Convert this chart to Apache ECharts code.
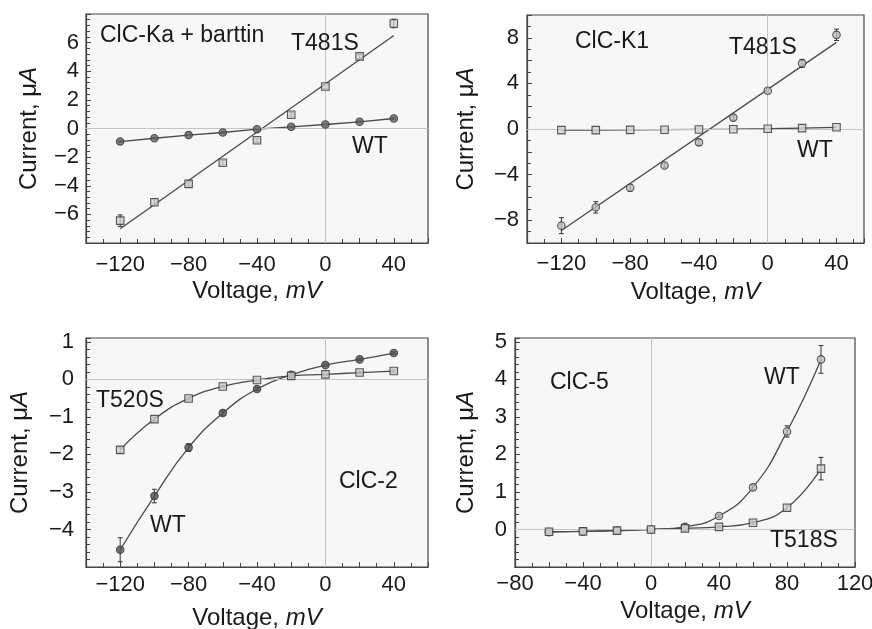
<!DOCTYPE html>
<html><head><meta charset="utf-8">
<script src="https://cdn.jsdelivr.net/npm/echarts@6/dist/echarts.min.js"></script>
<style>html,body{margin:0;padding:0;background:#fff}#c{width:872px;height:629px}</style>
</head><body><div id="c"></div>
<script>
// ---- data ----
const voltsTop = [-120, -100, -80, -60, -40, -20, 0, 20, 40];
const voltsClc5 = [-60, -40, -20, 0, 20, 40, 60, 80, 100];

// Panel A: ClC-Ka + barttin
const kaWT = [-0.91, -0.68, -0.46, -0.28, -0.05, 0.12, 0.28, 0.47, 0.70];
const kaWTErr = [0.06, 0.05, 0.05, 0.05, 0.05, 0.05, 0.05, 0.05, 0.06];
const kaT481S = [-6.44, -5.15, -3.87, -2.39, -0.82, 0.96, 2.93, 5.04, 7.34];
const kaT481SErr = [0.4, 0.2, 0.15, 0.15, 0.15, 0.15, 0.15, 0.15, 0.3];
const kaFitV = [-120, 40];
const kaFitI = [-7.0, 6.5];

// Panel B: ClC-K1
const k1WT = [-0.10, -0.10, -0.08, -0.06, -0.04, -0.02, 0.02, 0.08, 0.15];
const k1WTErr = [0.08, 0.08, 0.08, 0.08, 0.08, 0.08, 0.08, 0.08, 0.08];
const k1T481S = [-8.48, -6.87, -5.16, -3.20, -1.17, 1.00, 3.35, 5.76, 8.26];
const k1T481SErr = [0.7, 0.5, 0.3, 0.2, 0.25, 0.2, 0.2, 0.35, 0.5];
const k1FitV = [-120, 40];
const k1FitI = [-8.9, 7.6];

// Panel C: ClC-2
const c2WT = [-4.54, -3.11, -1.82, -0.90, -0.26, 0.12, 0.38, 0.53, 0.70];
const c2WTErr = [0.32, 0.18, 0.1, 0.05, 0.04, 0.03, 0.03, 0.03, 0.03];
const c2T520S = [-1.88, -1.06, -0.51, -0.19, -0.02, 0.09, 0.13, 0.18, 0.22];
const c2T520SErr = [0.08, 0.05, 0.04, 0.03, 0.03, 0.03, 0.03, 0.03, 0.03];

// Panel D: ClC-5
const c5WT = [-0.07, -0.05, -0.03, 0.0, 0.07, 0.36, 1.12, 2.61, 4.53];
const c5WTErr = [0.03, 0.03, 0.03, 0.03, 0.03, 0.04, 0.06, 0.15, 0.37];
const c5T518S = [-0.06, -0.05, -0.03, 0.0, 0.03, 0.07, 0.18, 0.58, 1.62];
const c5T518SErr = [0.03, 0.03, 0.03, 0.03, 0.03, 0.03, 0.04, 0.08, 0.3];

// ---- styling / layout ----
const FONT = 'Liberation Sans, Arial, Helvetica, sans-serif';
const INK = '#1a1a1a';
const LINE = '#4a4a4a';

function zip(xs, ys) { return xs.map((x, i) => [x, ys[i]]); }
function errData(xs, ys, es) { return xs.map((x, i) => [x, ys[i] - es[i], ys[i] + es[i]]); }
function minus(v) { return v < 0 ? '\u2212' + Math.abs(v) : String(v); }

function errRender(params, api) {
  const x = api.value(0), lo = api.value(1), hi = api.value(2);
  const p1 = api.coord([x, lo]), p2 = api.coord([x, hi]);
  const w = 2.5;
  const st = { stroke: '#333', lineWidth: 1 };
  return {
    type: 'group', children: [
      { type: 'line', shape: { x1: p1[0], y1: p1[1], x2: p2[0], y2: p2[1] }, style: st },
      { type: 'line', shape: { x1: p1[0] - w, y1: p1[1], x2: p1[0] + w, y2: p1[1] }, style: st },
      { type: 'line', shape: { x1: p2[0] - w, y1: p2[1], x2: p2[0] + w, y2: p2[1] }, style: st }
    ]
  };
}

const grids = [
  { left: 86, top: 14, width: 342, height: 229 },
  { left: 527, top: 15, width: 337, height: 228 },
  { left: 86, top: 338, width: 342, height: 229 },
  { left: 515, top: 338, width: 340, height: 229 }
].map(g => Object.assign(g, {
  show: true, borderColor: '#444', borderWidth: 1.2, backgroundColor: '#f7f7f7',
  containLabel: false, outerBoundsMode: 'none'
}));

function xAxis(i, min, max, nameGap, labelMargin) {
  return {
    type: 'value', gridIndex: i, min, max, interval: 20,
    axisLine: { show: true, onZero: false, lineStyle: { color: '#444', width: 1.2 } },
    axisTick: { show: true, inside: true, length: 5, lineStyle: { color: '#444' } },
    minorTick: { show: true, splitNumber: 2, length: 4, lineStyle: { color: '#444' } },
    splitLine: { show: false },
    axisLabel: {
      margin: labelMargin, fontFamily: FONT, fontSize: 22, color: INK, showMinLabel: true, showMaxLabel: true,
      formatter: v => (Math.abs(v % 40) < 1e-9 ? minus(v) : '')
    },
    name: '{a|Voltage, }{b|mV}', nameLocation: 'middle', nameGap,
    nameTextStyle: {
      rich: {
        a: { fontFamily: FONT, fontSize: 24, color: INK },
        b: { fontFamily: FONT, fontSize: 24, color: INK, fontStyle: 'italic' }
      }
    }
  };
}

function yAxis(i, min, max, interval, minorSplit, showFn, nameGap, labelMargin) {
  return {
    type: 'value', gridIndex: i, min, max, interval,
    axisLine: { show: true, onZero: false, lineStyle: { color: '#444', width: 1.2 } },
    axisTick: { show: true, inside: true, length: 5, lineStyle: { color: '#444' } },
    minorTick: { show: true, splitNumber: minorSplit, length: 4, lineStyle: { color: '#444' } },
    splitLine: { show: false },
    axisLabel: {
      margin: labelMargin, fontFamily: FONT, fontSize: 22, color: INK, showMinLabel: true, showMaxLabel: true,
      formatter: v => (showFn(v) ? minus(v) : '')
    },
    name: '{a|Current, \u03bc}{b|A}', nameLocation: 'middle', nameGap,
    nameTextStyle: {
      rich: {
        a: { fontFamily: FONT, fontSize: 24, color: INK },
        b: { fontFamily: FONT, fontSize: 24, color: INK, fontStyle: 'italic' }
      }
    }
  };
}

const isInt = v => Math.abs(v - Math.round(v)) < 1e-9;

const xAxes = [
  xAxis(0, -140, 60, 36, 11),
  xAxis(1, -140, 56, 37, 10),
  xAxis(2, -140, 60, 39, 7),
  xAxis(3, -80, 120, 32, 6)
];
const yAxes = [
  yAxis(0, -8, 8, 2, 5, v => Math.abs(v) < 7, 45, 7),
  yAxis(1, -10, 10, 2, 2, v => Math.abs(v % 4) < 1e-9 && Math.abs(v) < 9, 49, 8),
  yAxis(2, -5, 1.1, 1, 5, v => isInt(v) && v > -5, 54, 12),
  yAxis(3, -1, 5.1, 1, 5, v => isInt(v) && v > -1, 37, 8)
];

function zeroLines() {
  return {
    silent: true, symbol: 'none', label: { show: false },
    lineStyle: { color: '#c4c4c4', width: 1, type: 'solid' },
    data: [{ xAxis: 0 }, { yAxis: 0 }]
  };
}

function pointSeries(i, xs, ys, symbol, fill, name) {
  return {
    name, type: 'scatter', xAxisIndex: i, yAxisIndex: i, data: zip(xs, ys),
    symbol, symbolSize: 7.5, z: 5, silent: true,
    itemStyle: { color: fill, borderColor: '#333', borderWidth: 1.1 }
  };
}
function lineSeries(i, xs, ys, smooth, extra) {
  return Object.assign({
    type: 'line', xAxisIndex: i, yAxisIndex: i, data: zip(xs, ys), showSymbol: false,
    smooth: smooth, silent: true, z: 3,
    lineStyle: { color: LINE, width: 1.3 }
  }, extra || {});
}
function errSeries(i, xs, ys, es) {
  return {
    type: 'custom', xAxisIndex: i, yAxisIndex: i, renderItem: errRender,
    data: errData(xs, ys, es), encode: { x: 0, y: [1, 2] }, z: 4, silent: true
  };
}

const series = [
  // Panel A
  lineSeries(0, voltsTop, kaWT, false, { markLine: zeroLines() }),
  lineSeries(0, kaFitV, kaFitI, false),
  errSeries(0, voltsTop, kaWT, kaWTErr),
  errSeries(0, voltsTop, kaT481S, kaT481SErr),
  pointSeries(0, voltsTop, kaWT, 'circle', '#666', 'WT'),
  pointSeries(0, voltsTop, kaT481S, 'rect', '#d0d0d0', 'T481S'),
  // Panel B
  lineSeries(1, voltsTop, k1WT, false, { markLine: zeroLines() }),
  lineSeries(1, k1FitV, k1FitI, false),
  errSeries(1, voltsTop, k1T481S, k1T481SErr),
  pointSeries(1, voltsTop, k1WT, 'rect', '#d0d0d0', 'WT'),
  pointSeries(1, voltsTop, k1T481S, 'circle', '#bdbdbd', 'T481S'),
  // Panel C
  lineSeries(2, voltsTop, c2WT, 0.5, { markLine: zeroLines() }),
  lineSeries(2, voltsTop, c2T520S, 0.5),
  errSeries(2, voltsTop, c2WT, c2WTErr),
  errSeries(2, voltsTop, c2T520S, c2T520SErr),
  pointSeries(2, voltsTop, c2WT, 'circle', '#555', 'WT'),
  pointSeries(2, voltsTop, c2T520S, 'rect', '#cfcfcf', 'T520S'),
  // Panel D
  lineSeries(3, voltsClc5, c5WT, 0.5, { markLine: zeroLines() }),
  lineSeries(3, voltsClc5, c5T518S, 0.5),
  errSeries(3, voltsClc5, c5WT, c5WTErr),
  errSeries(3, voltsClc5, c5T518S, c5T518SErr),
  pointSeries(3, voltsClc5, c5WT, 'circle', '#bdbdbd', 'WT'),
  pointSeries(3, voltsClc5, c5T518S, 'rect', '#cfcfcf', 'T518S')
];

function txt(text, x, y) {
  return {
    type: 'text', x, y, z: 100, silent: true,
    style: { text, fill: INK, font: '23px ' + FONT, verticalAlign: 'middle', textVerticalAlign: 'middle' }
  };
}

const graphics = [
  txt('ClC-Ka + barttin', 100, 36),
  txt('T481S', 291, 44),
  txt('WT', 352, 147),
  txt('ClC-K1', 575, 42),
  txt('T481S', 729, 48),
  txt('WT', 797, 151),
  txt('T520S', 96, 401),
  txt('WT', 150, 526),
  txt('ClC-2', 339, 482),
  txt('ClC-5', 550, 383),
  txt('WT', 764, 378),
  txt('T518S', 770, 541)
];

const chart = echarts.init(document.getElementById('c'), null, { renderer: 'canvas' });
chart.setOption({
  animation: false,
  backgroundColor: '#ffffff',
  grid: grids,
  xAxis: xAxes,
  yAxis: yAxes,
  series,
  graphic: graphics
});
</script>
</body></html>
